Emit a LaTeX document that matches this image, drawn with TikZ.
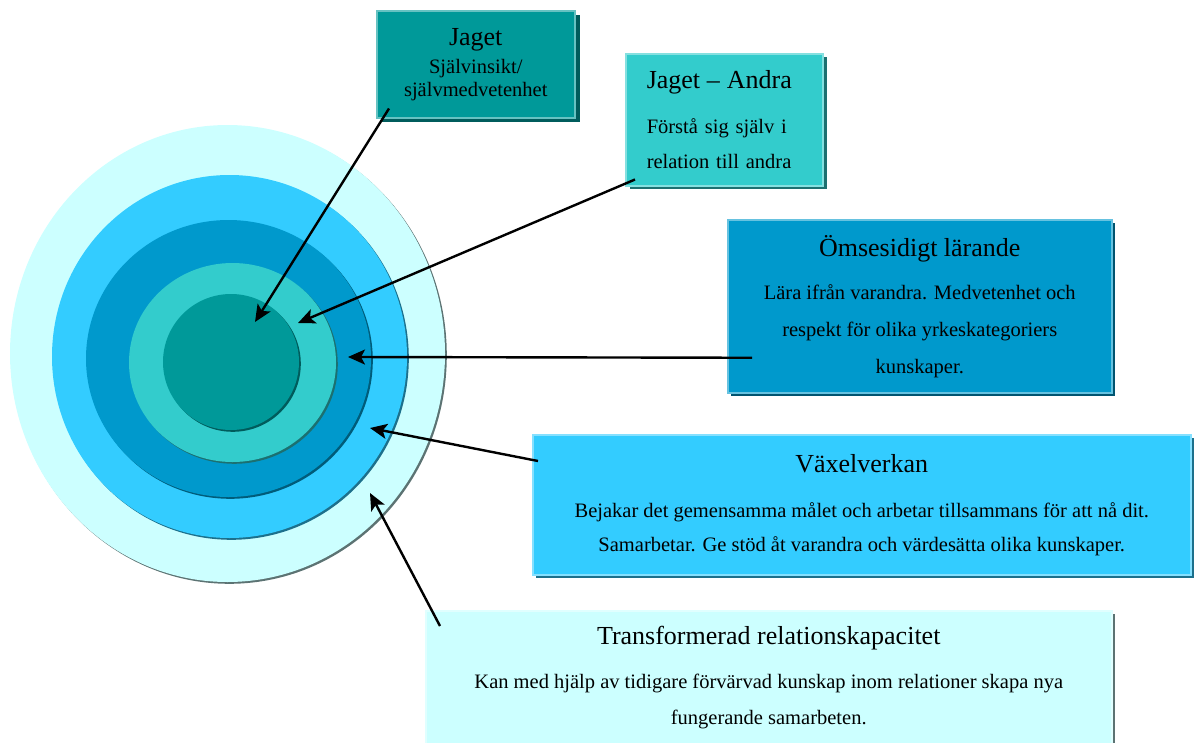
\documentclass[tikz,border=0pt]{standalone}
\usepackage{fontspec}
\setmainfont{Liberation Serif}
\usetikzlibrary{calc}
\usetikzlibrary{shadows}
\usetikzlibrary{arrows.meta}

\definecolor{cJag}{HTML}{009999}
\definecolor{cAndra}{HTML}{33CCCC}
\definecolor{cOms}{HTML}{0099CC}
\definecolor{cVax}{HTML}{33CCFF}
\definecolor{cTrans}{HTML}{CCFFFF}

\newcommand{\boxtitle}[1]{{\fontsize{26}{26}\selectfont #1}}

\tikzset{
  ringbox/.style={anchor=north west, inner sep=0pt, align=center, line width=1.5pt},
  arr/.style={black, line width=2.4pt, -{Stealth[length=17pt, width=15pt, inset=4pt]}}
}

\begin{document}
\begin{tikzpicture}[x=1pt, y=-1pt]
\useasboundingbox (0,0) rectangle (1194,742);
% rings, outer to inner
\foreach \cx/\cy/\rx/\ry/\fc/\sc in {227.5/353.5/217.5/228.5/cTrans/cTrans!45!black,
    229.5/356.5/177.5/181.5/cVax/cVax!55!black,
    228.5/358.5/142.5/138.5/cOms/cOms!60!black,
    232.5/362.5/103.5/99.5/cAndra/cAndra!55!black,
    231/362/68/68/cJag/cJag!60!black}{
 \fill[\sc] (\cx+1.8,\cy+1.8) ellipse [x radius=\rx, y radius=\ry];
 \fill[\fc] (\cx,\cy) ellipse [x radius=\rx, y radius=\ry];
}
% boxes
\node[ringbox, fill=cJag, draw=cJag!60!white, minimum width=198, minimum height=107,
  drop shadow={shadow xshift=5pt, shadow yshift=-4pt, fill=cJag!60!black, opacity=1},
  font=\fontsize{20.5}{23}\selectfont] (jaget) at (376,10)
  {\boxtitle{Jaget}\\[5pt] Självinsikt/\\ självmedvetenhet};
\node[ringbox, fill=cAndra, draw=cAndra!60!white, text width=155, inner xsep=21, align=left,
  minimum height=132,
  drop shadow={shadow xshift=4pt, shadow yshift=-3pt, fill=cAndra!55!black, opacity=1},
  font=\fontsize{20.5}{35}\selectfont] (andra) at (625,53)
  {\boxtitle{Jaget – Andra}\\[10pt] Förstå sig själv i\\ relation till andra};
\node[ringbox, fill=cOms, draw=cOms!60!white, minimum width=384, minimum height=173,
  drop shadow={shadow xshift=3pt, shadow yshift=-3pt, fill=cOms!55!black, opacity=1},
  font=\fontsize{20.5}{37}\selectfont] (oms) at (727,219)
  {\boxtitle{Ömsesidigt lärande}\\[6pt] Lära ifrån varandra. Medvetenhet och\\
   respekt för olika yrkeskategoriers\\ kunskaper.};
\node[ringbox, fill=cVax, draw=cVax!60!white, minimum width=658, minimum height=140,
  drop shadow={shadow xshift=3pt, shadow yshift=-3pt, fill=cVax!55!black, opacity=1},
  font=\fontsize{20.5}{34}\selectfont] (vax) at (532,434)
  {\boxtitle{Växelverkan}\\[11pt] Bejakar det gemensamma målet och arbetar tillsammans för att nå dit.\\
   Samarbetar. Ge stöd åt varandra och värdesätta olika kunskaper.};
\node[ringbox, fill=cTrans, draw=cTrans!60!white, minimum width=686, minimum height=134,
  drop shadow={shadow xshift=3pt, shadow yshift=-3pt, fill=cTrans!45!black, opacity=1},
  font=\fontsize{20.5}{36}\selectfont] (trans) at (425,610)
  {\boxtitle{Transformerad relationskapacitet}\\[8pt] Kan med hjälp av tidigare förvärvad kunskap inom relationer skapa nya\\
   fungerande samarbeten.};
% arrow ends
\coordinate (s1) at ([shift={(13,-10)}]jaget.south west);
\coordinate (s2) at ([shift={(10,-7)}]andra.south west);
\coordinate (s3) at ([shift={(25,51.5)}]oms.west);
\coordinate (s4) at ([shift={(6,27)}]vax.north west);
\coordinate (s5) at ([shift={(15,16)}]trans.north west);
\coordinate (t1) at (255,322);
\coordinate (t2) at (298,323);
\coordinate (t3) at (348,357);
\coordinate (t4) at (370,428);
\coordinate (t5) at (370,493);
\foreach \i in {1,...,5}{
 \draw[arr] (s\i) -- (t\i);
}
\end{tikzpicture}
\end{document}
